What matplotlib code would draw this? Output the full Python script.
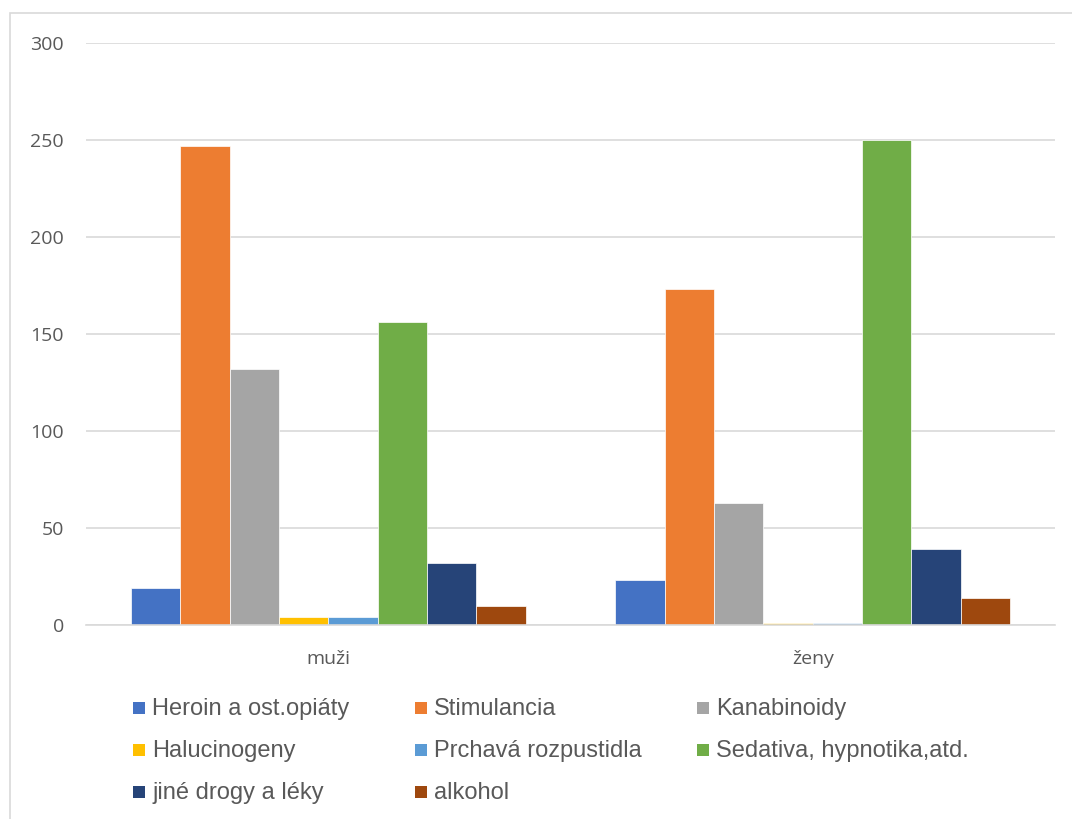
import numpy as np
import matplotlib.pyplot as plt
from matplotlib.patches import Rectangle

plt.rcParams['font.family'] = ['Open Sans', 'DejaVu Sans']

groups = ['muži', 'ženy']
series = ['Heroin a ost.opiáty', 'Stimulancia', 'Kanabinoidy',
          'Halucinogeny', 'Prchavá rozpustidla', 'Sedativa, hypnotika,atd.',
          'jiné drogy a léky', 'alkohol']
heroin = [19, 23]
stimulancia = [247, 173]
kanabinoidy = [132, 63]
halucinogeny = [4, 1]
prchava = [4, 1]
sedativa = [156, 250]
jine = [32, 39]
alkohol = [10, 14]
values = [heroin, stimulancia, kanabinoidy, halucinogeny, prchava, sedativa, jine, alkohol]
colors = ['#4472C4', '#ED7D31', '#A5A5A5', '#FFC000', '#5B9BD5', '#70AD47', '#264478', '#9E480E']

W, H = 1072, 819
fig = plt.figure(figsize=(W / 100, H / 100), dpi=100)
ax = fig.add_axes([86 / W, 1 - 625 / H, (1055 - 86) / W, (625 - 43) / H])

# outer chart frame (right/bottom edges fall outside the image)
fig.patches.append(Rectangle((10 / W, -0.1), 1.2, 1.1 - 13 / H, transform=fig.transFigure,
                             fill=False, edgecolor='#d9d9d9', linewidth=1.2))

x = np.arange(len(groups))
n = len(series)
group_w = 0.815
w = group_w / n
for i, (name, vals, c) in enumerate(zip(series, values, colors)):
    ax.bar(x - group_w / 2 + w * (i + 0.5), vals, width=w, color=c,
           edgecolor='white', linewidth=0.5, label=name, zorder=3)

ax.set_xlim(-0.5, 1.5)
ax.set_ylim(0, 300)
ax.set_yticks(range(0, 301, 50))
ax.set_xticks(x)
ax.set_xticklabels(groups)
ax.yaxis.grid(True, color='#d9d9d9', linewidth=1.2, zorder=0)
for s in ['top', 'right', 'left']:
    ax.spines[s].set_visible(False)
ax.spines['bottom'].set_color('#d9d9d9')
ax.spines['bottom'].set_linewidth(1.2)
ax.spines['bottom'].set_zorder(4)
ax.tick_params(axis='both', length=0, colors='#595959', labelsize=14)
ax.tick_params(axis='y', pad=16)
ax.tick_params(axis='x', pad=18)

# legend laid out like Excel: 3 fixed-width columns, row-major order
for i, (name, c) in enumerate(zip(series, colors)):
    row, col = divmod(i, 3)
    lx = 133 + 282 * col
    ly = 708 + 42 * row
    fig.patches.append(Rectangle((lx / W, 1 - (ly + 6) / H), 12 / W, 12 / H,
                                 transform=fig.transFigure, facecolor=c, edgecolor='none'))
    fig.text((lx + 19) / W, 1 - (ly + 1) / H, name, fontsize=17, color='#595959',
             family=['Liberation Sans', 'DejaVu Sans'], va='center', ha='left')

fig.savefig('out.png', dpi=100)
